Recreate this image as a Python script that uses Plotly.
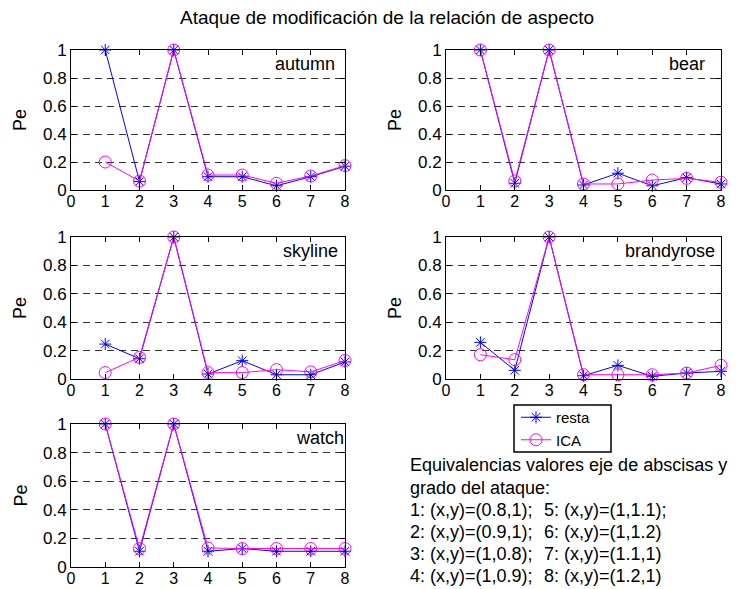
import plotly.graph_objects as go

x_vals = [1, 2, 3, 4, 5, 6, 7, 8]
names = ["autumn", "bear", "skyline", "brandyrose", "watch"]
resta = {
    "autumn":     [1.0, 0.06, 1.0, 0.095, 0.095, 0.03, 0.095, 0.17],
    "bear":       [1.0, 0.048, 1.0, 0.036, 0.12, 0.03, 0.088, 0.043],
    "skyline":    [0.246, 0.143, 1.0, 0.035, 0.129, 0.03, 0.03, 0.12],
    "brandyrose": [0.258, 0.061, 1.0, 0.023, 0.096, 0.019, 0.042, 0.054],
    "watch":      [1.0, 0.11, 1.0, 0.11, 0.129, 0.11, 0.11, 0.11],
}
ica = {
    "autumn":     [0.2, 0.064, 1.0, 0.107, 0.107, 0.048, 0.1, 0.174],
    "bear":       [1.0, 0.064, 1.0, 0.043, 0.043, 0.071, 0.083, 0.055],
    "skyline":    [0.045, 0.153, 1.0, 0.045, 0.045, 0.066, 0.05, 0.13],
    "brandyrose": [0.171, 0.136, 1.0, 0.03, 0.03, 0.03, 0.042, 0.096],
    "watch":      [1.0, 0.129, 1.0, 0.133, 0.129, 0.129, 0.129, 0.129],
}
label_x = {"autumn": 5.9, "bear": 6.43, "skyline": 6.13, "brandyrose": 5.15, "watch": 6.5}
y_ticks = [0, 0.2, 0.4, 0.6, 0.8, 1]
y_tick_text = ["0", "0.2", "0.4", "0.6", "0.8", "1"]
x_ticks = [0, 1, 2, 3, 4, 5, 6, 7, 8]

title = "Ataque de modificación de la relación de aspecto"
info_head = ["Equivalencias valores eje de abscisas y", "grado del ataque:"]
info_col1 = ["1: (x,y)=(0.8,1);", "2: (x,y)=(0.9,1);", "3: (x,y)=(1,0.8);", "4: (x,y)=(1,0.9);"]
info_col2 = ["5: (x,y)=(1,1.1);", "6: (x,y)=(1,1.2)", "7: (x,y)=(1.1,1)", "8: (x,y)=(1.2,1)"]

W, H = 742, 589
FONT = "Liberation Sans, Arial, sans-serif"
BLUE = "rgb(0,0,255)"
MAG = "rgb(255,0,255)"

# pixel boxes (left, right, top, bottom)
boxes = [
    (71, 345, 50, 190),
    (446, 721, 50, 190),
    (71, 345, 237, 379),
    (446, 721, 237, 379),
    (71, 345, 424, 567),
]

fig = go.Figure()
layout = dict(
    width=W, height=H, margin=dict(l=0, r=0, t=0, b=0, autoexpand=False),
    paper_bgcolor="white", plot_bgcolor="white",
    font=dict(family=FONT, size=16, color="black"),
    showlegend=True,
)
annotations = []
for i, (nm, (l, r, t, b)) in enumerate(zip(names, boxes)):
    k = "" if i == 0 else str(i + 1)
    xa, ya = "x" + k, "y" + k
    layout["xaxis" + k] = dict(
        domain=[l / W, r / W], range=[0, 8], tickvals=x_ticks,
        ticks="inside", ticklen=5, tickcolor="black", mirror="ticks",
        showline=True, linecolor="black", linewidth=1, showgrid=False,
        zeroline=False, anchor=ya, automargin=False, ticklabelstandoff=-3,
        tickfont=dict(size=16, family=FONT),
    )
    layout["yaxis" + k] = dict(
        domain=[1 - b / H, 1 - t / H], range=[0, 1], tickvals=y_ticks,
        ticktext=y_tick_text, ticks="inside", ticklen=5, tickcolor="black",
        mirror="ticks", showline=True, linecolor="black", linewidth=1,
        showgrid=True, gridcolor="#333333", gridwidth=1, griddash="7px,5px",
        zeroline=False, anchor=xa, automargin=False,
        tickfont=dict(size=17, family=FONT),
    )
    fig.add_trace(go.Scatter(
        x=x_vals, y=resta[nm], xaxis=xa, yaxis=ya, mode="lines+markers",
        name="resta", showlegend=(i == 0), legendgroup="resta",
        line=dict(color=BLUE, width=1),
        marker=dict(symbol="asterisk-open", size=10, color=BLUE, line=dict(color=BLUE, width=1)),
        cliponaxis=False,
    ))
    fig.add_trace(go.Scatter(
        x=x_vals, y=ica[nm], xaxis=xa, yaxis=ya, mode="lines+markers",
        name="ICA", showlegend=(i == 0), legendgroup="ICA",
        line=dict(color=MAG, width=1),
        marker=dict(symbol="circle-open", size=12, color=MAG, line=dict(color=MAG, width=1)),
        cliponaxis=False,
    ))
    annotations.append(dict(
        x=label_x[nm], y=0.9, xref=xa, yref=ya, text=nm, showarrow=False,
        xanchor="left", yanchor="middle", font=dict(size=18, family=FONT),
    ))
    annotations.append(dict(
        x=(l - 51) / W, y=1 - ((t + b) / 2) / H, xref="paper", yref="paper",
        text="Pe", textangle=-90, showarrow=False, xanchor="center",
        yanchor="middle", font=dict(size=18, family=FONT),
    ))

annotations.append(dict(
    x=387 / W, y=1 - 18 / H, xref="paper", yref="paper", text=title,
    showarrow=False, xanchor="center", yanchor="middle", font=dict(size=19, family=FONT),
))
line_y = [465, 488, 510, 532, 554, 576]
for j, txt in enumerate(info_head):
    annotations.append(dict(
        x=408 / W, y=1 - line_y[j] / H, xref="paper", yref="paper", text=txt,
        showarrow=False, xanchor="left", yanchor="middle", font=dict(size=18, family=FONT),
    ))
for j, (a, c) in enumerate(zip(info_col1, info_col2)):
    annotations.append(dict(
        x=408 / W, y=1 - line_y[j + 2] / H, xref="paper", yref="paper", text=a,
        showarrow=False, xanchor="left", yanchor="middle", font=dict(size=18, family=FONT),
    ))
    annotations.append(dict(
        x=542 / W, y=1 - line_y[j + 2] / H, xref="paper", yref="paper", text=c,
        showarrow=False, xanchor="left", yanchor="middle", font=dict(size=18, family=FONT),
    ))

layout["annotations"] = annotations
layout["shapes"] = [dict(
    type="rect", xref="paper", yref="paper",
    x0=514 / W, x1=611 / W, y0=1 - 452 / H, y1=1 - 405 / H,
    line=dict(color="black", width=1.5), fillcolor="white", layer="below",
)]
layout["legend"] = dict(
    x=516 / W, y=1 - 401 / H, xanchor="left", yanchor="top",
    borderwidth=0, bgcolor="rgba(0,0,0,0)",
    font=dict(size=15, family=FONT), itemwidth=30, tracegroupgap=0,
)
fig.update_layout(**layout)
fig.write_html("out.html")
